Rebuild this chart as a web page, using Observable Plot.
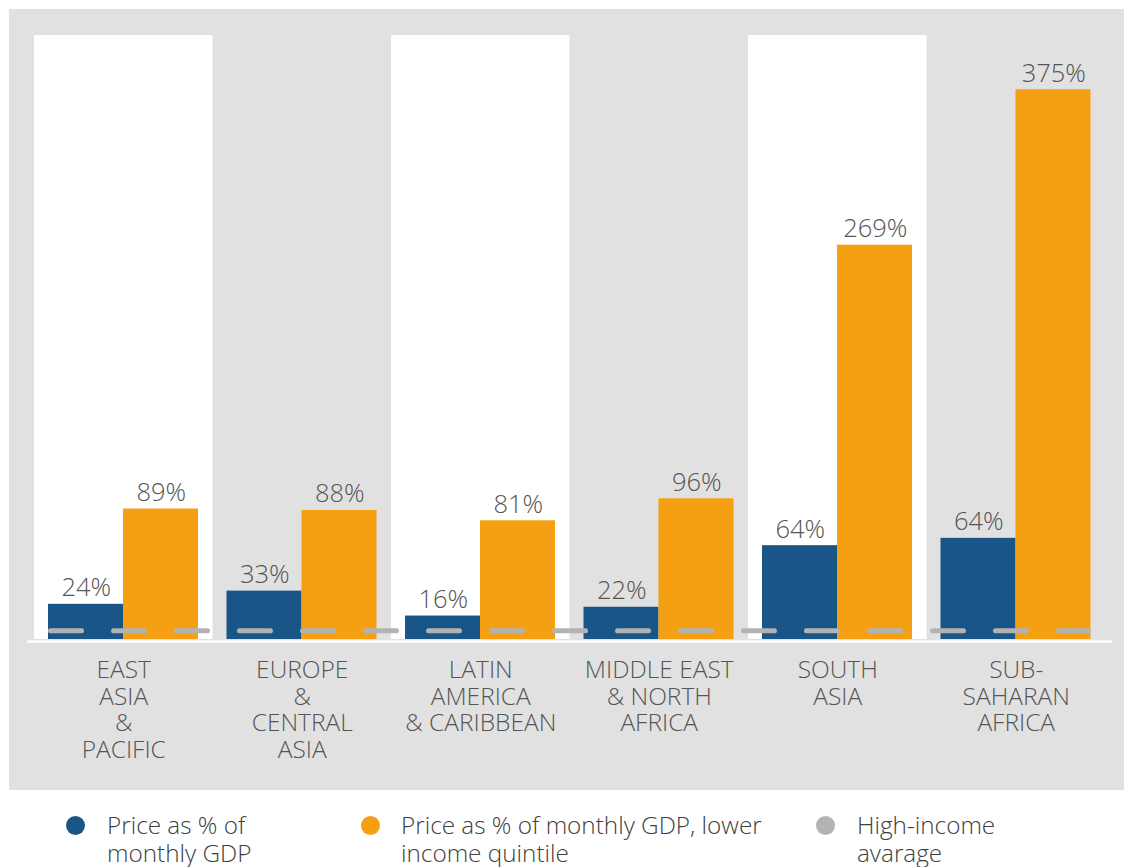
<!DOCTYPE html>
<html>
<head>
<meta charset="utf-8">
<script src="https://cdn.jsdelivr.net/npm/d3@7"></script>
<script src="https://cdn.jsdelivr.net/npm/@observablehq/plot@0.6"></script>
<style>
  body { margin: 0; background: #fff; font-family: "Open Sans", Lato, sans-serif; }
  #wrap { position: relative; width: 1124px; height: 867px; }
  #chart { position: absolute; left: 9px; top: 9px; }
  .leg { position: absolute; top: 811px; font-size: 24.3px; line-height: 28px; color: #404040; font-weight: 300; white-space: nowrap; }
  .dot { position: absolute; width: 19px; height: 19px; border-radius: 50%; top: 5px; }
  .leg span.t { display: block; }
</style>
</head>
<body>
<div id="wrap">
  <div id="chart"></div>
  <div class="leg" style="left:107px"><div class="dot" style="left:-41px;background:#1a5588"></div><span class="t">Price as % of<br>monthly GDP</span></div>
  <div class="leg" style="left:401px"><div class="dot" style="left:-40px;background:#f4a012"></div><span class="t">Price as % of monthly GDP, lower<br>income quintile</span></div>
  <div class="leg" style="left:857px"><div class="dot" style="left:-41px;background:#b3b3b3"></div><span class="t">High-income<br>avarage</span></div>
</div>
<script>
const regions = ["East Asia & Pacific", "Europe & Central Asia", "Latin America & Caribbean", "Middle East & North Africa", "South Asia", "Sub-Saharan Africa"];
const tickLabels = ["EAST\nASIA\n&\nPACIFIC", "EUROPE\n&\nCENTRAL\nASIA", "LATIN\nAMERICA\n& CARIBBEAN", "MIDDLE EAST\n& NORTH\nAFRICA", "SOUTH\nASIA", "SUB-\nSAHARAN\nAFRICA"];
const priceGdp = [24, 33, 16, 22, 64, 69];
const priceGdpLabels = ["24%", "33%", "16%", "22%", "64%", "64%"];
const priceLowQuintile = [89, 88, 81, 96, 269, 375];
const priceLowQuintileLabels = ["89%", "88%", "81%", "96%", "269%", "375%"];
const highIncomeAverage = 6;
const whiteBandRegions = ["East Asia & Pacific", "Latin America & Caribbean", "South Asia"];
const yMax = 412;

const tickMap = Object.fromEntries(regions.map((r, i) => [r, tickLabels[i]]));
const gdpData = regions.map((r, i) => ({region: r, value: priceGdp[i], label: priceGdpLabels[i]}));
const lowData = regions.map((r, i) => ({region: r, value: priceLowQuintile[i], label: priceLowQuintileLabels[i]}));

const BLUE = "#1a5588", ORANGE = "#f4a012", GREY = "#b3b3b3";

const chart = Plot.plot({
  width: 1115,
  height: 781,
  marginLeft: 25,
  marginRight: 19,
  marginTop: 26,
  marginBottom: 151,
  style: {background: "#e1e1e1", fontFamily: "'Open Sans', Lato, sans-serif", fontWeight: 300},
  x: {domain: regions, padding: 0, round: false, label: null},
  y: {domain: [0, yMax], axis: null},
  marks: [
    Plot.cell(whiteBandRegions, {x: d => d, fill: "white"}),
    Plot.barY(gdpData, {x: "region", y: "value", fill: BLUE, insetLeft: 14, insetRight: 89.5}),
    Plot.barY(lowData, {x: "region", y: "value", fill: ORANGE, insetLeft: 89, insetRight: 14.5}),
    Plot.ruleY([0], {stroke: "white", strokeWidth: 2.5, insetLeft: -7, insetRight: -7, dy: 2}),
    Plot.ruleY([highIncomeAverage], {stroke: GREY, strokeWidth: 5, strokeLinecap: "round", strokeDasharray: "31,32", insetLeft: 16.5, insetRight: 16.5}),
    Plot.text(gdpData, {x: "region", y: "value", text: "label", dx: -37.5, dy: -8, lineAnchor: "bottom", fontSize: 25.5, fill: "#555555"}),
    Plot.text(lowData, {x: "region", y: "value", text: "label", dx: 37.5, dy: -8, lineAnchor: "bottom", fontSize: 25.5, fill: "#555555"}),
    Plot.axisX({tickSize: 0, tickPadding: 20, fontSize: 24.5, lineHeight: 1.08, fill: "#555555", label: null, tickFormat: d => tickMap[d]})
  ]
});
document.getElementById("chart").appendChild(chart);
</script>
</body>
</html>
